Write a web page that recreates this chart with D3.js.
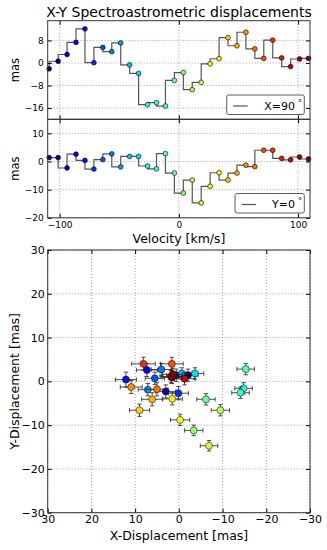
<!DOCTYPE html>
<html lang="en">

<head>
    <meta charset="UTF-8">
    <title>X-Y Spectroastrometric displacements</title>
    <script src="https://cdn.jsdelivr.net/npm/d3@7"></script>
    <style>
        * {
            margin: 0;
            padding: 0;
        }

        body {
            background: #fff;
        }

        text {
            font-family: "DejaVu Sans", sans-serif;
            fill: #000;
        }
    </style>
</head>

<body>
</body>
<script>
    const width = 327
    const height = 550

    // velocity channels [km/s]
    var velocity = [-108.75, -101.25, -93.75, -86.25, -78.75, -71.25, -63.75, -56.25, -48.75, -41.25,
        -33.75, -26.25, -18.75, -11.25, -3.75, 3.75, 11.25, 18.75, 26.25, 33.75,
        41.25, 48.75, 56.25, 63.75, 71.25, 78.75, 86.25, 93.75, 101.25, 108.75]

    // spectroastrometric displacements [mas]
    var xDisp = [-2.1, 0.6, 3.0, 7.3, 12.1, 0.1, 5.5, 4.0, 7.1, -0.7,
        -3.7, -14.8, -14.1, -15.3, -6.2, -3.4, -9.5, -6.9, -0.3, 1.5,
        9.0, 6.1, 10.9, 5.0, 1.6, 8.1, 1.8, -1.3, 1.4, 1.6]
    var yDisp = [1.4, 1.4, -2.3, 2.6, 0.4, -2.7, 0.7, 2.7, -1.9, 1.8,
        1.8, -1.6, -2.6, 2.8, -4.1, -11.2, -6.6, -14.7, -8.8, -4.0,
        -6.6, -4.1, -1.3, -1.8, 4.0, 4.0, 1.1, 0.6, 1.6, 0.9]
    var xErr = [2.3, 2.2, 2.3, 2.4, 2.4, 2.3, 2.2, 2.3, 2.2, 2.1,
        2.0, 2.0, 2.0, 2.0, 2.1, 2.1, 2.1, 2.0, 2.2, 2.3,
        2.3, 2.4, 2.5, 2.5, 2.6, 2.7, 2.5, 2.4, 2.3, 2.3]
    var yErr = [1.4, 1.4, 1.5, 1.5, 1.7, 1.5, 1.4, 1.4, 1.4, 1.3,
        1.3, 1.3, 1.3, 1.3, 1.3, 1.2, 1.3, 1.2, 1.3, 1.4,
        1.4, 1.5, 1.5, 1.5, 1.5, 1.5, 1.4, 1.4, 1.4, 1.4]

    var velTicks = [-100, 0, 100]
    var xPanelTicks = [-16, -8, 0, 8]
    var yPanelTicks = [-20, -10, 0, 10]
    var scatterTicks = [-30, -20, -10, 0, 10, 20, 30]

    const svg = d3.select('body')
        .append('svg')
        .attr('width', width)
        .attr('height', height)

    // jet colormap from piecewise linear scales
    const jr = d3.scaleLinear().domain([0, 0.35, 0.66, 0.89, 1]).range([0, 0, 1, 1, 0.5]).clamp(true)
    const jg = d3.scaleLinear().domain([0, 0.125, 0.375, 0.64, 0.91, 1]).range([0, 0, 1, 1, 0, 0]).clamp(true)
    const jb = d3.scaleLinear().domain([0, 0.11, 0.34, 0.65, 1]).range([0.5, 1, 1, 0, 0]).clamp(true)
    const cIdx = d3.scaleLinear().domain([0, velocity.length - 1]).range([0, 1])
    const jet = i => {
        const t = cIdx(i)
        return d3.rgb(jr(t) * 255, jg(t) * 255, jb(t) * 255).formatHex()
    }

    const left = 47.7, right = 310
    const panels = [
        { top: 20.7, bottom: 119.3, vals: xDisp, ticks: xPanelTicks, legend: 'X=90', lx: 226.7, lw: 77.6 },
        { top: 119.3, bottom: 217.8, vals: yDisp, ticks: yPanelTicks, legend: 'Y=0', lx: 235, lw: 69.3 }
    ]

    const vScale = d3.scaleLinear()
        .domain([-110, 110])
        .range([left, right])

    panels.forEach((p, k) => {
        const yScale = d3.scaleLinear()
            .domain([-20, 15])
            .range([p.bottom, p.top])

        const g = svg.append('g')

        // grid
        g.selectAll('.vgrid')
            .data(velTicks)
            .enter()
            .append('line')
            .attr('x1', d => vScale(d)).attr('x2', d => vScale(d))
            .attr('y1', p.top).attr('y2', p.bottom)
            .attr('stroke', '#777').attr('stroke-width', 0.7).attr('stroke-dasharray', '1,2')
        g.selectAll('.hgrid')
            .data(p.ticks)
            .enter()
            .append('line')
            .attr('x1', left).attr('x2', right)
            .attr('y1', d => yScale(d)).attr('y2', d => yScale(d))
            .attr('stroke', '#777').attr('stroke-width', 0.7).attr('stroke-dasharray', '1,2')

        // step line
        const line = d3.line()
            .x((d, i) => vScale(velocity[i]))
            .y(d => yScale(d))
            .curve(d3.curveStepBefore)
        g.append('path')
            .attr('d', line(p.vals))
            .attr('fill', 'none')
            .attr('stroke', '#555')
            .attr('stroke-width', 1.2)

        g.selectAll('.dot')
            .data(p.vals)
            .enter()
            .append('circle')
            .attr('cx', (d, i) => vScale(velocity[i]))
            .attr('cy', d => yScale(d))
            .attr('r', 2.4)
            .attr('fill', (d, i) => jet(i))
            .attr('stroke', '#000')
            .attr('stroke-width', 0.6)

        // axes with inward ticks
        const yAxis = d3.axisLeft(yScale).tickValues(p.ticks).tickSize(-4).tickPadding(4)
        g.append('g')
            .attr('transform', 'translate(' + left + ',0)')
            .call(yAxis)
            .call(a => a.select('.domain').remove())
            .selectAll('text').attr('font-size', 9).attr('font-family', 'DejaVu Sans').attr('fill', '#000')
        g.append('g')
            .attr('transform', 'translate(' + right + ',0)')
            .call(d3.axisRight(yScale).tickValues(p.ticks).tickSize(-4).tickFormat(''))
            .call(a => a.select('.domain').remove())

        const xAxis = d3.axisBottom(vScale).tickValues(velTicks).tickSize(-4).tickPadding(4)
        if (k == 0) xAxis.tickFormat('')
        g.append('g')
            .attr('transform', 'translate(0,' + p.bottom + ')')
            .call(xAxis)
            .call(a => a.select('.domain').remove())
            .selectAll('text').attr('font-size', 9).attr('font-family', 'DejaVu Sans').attr('fill', '#000')
        g.append('g')
            .attr('transform', 'translate(0,' + p.top + ')')
            .call(d3.axisTop(vScale).tickValues(velTicks).tickSize(-4).tickFormat(''))
            .call(a => a.select('.domain').remove())

        g.append('rect')
            .attr('x', left).attr('y', p.top)
            .attr('width', right - left).attr('height', p.bottom - p.top)
            .attr('fill', 'none').attr('stroke', '#333').attr('stroke-width', 1)

        g.append('text')
            .attr('transform', 'translate(19,' + ((p.top + p.bottom) / 2) + ') rotate(-90)')
            .attr('text-anchor', 'middle')
            .attr('font-size', 11.5)
            .text('mas')

        // legend
        const ly = p.bottom - 24.3
        const leg = g.append('g')
        leg.append('rect')
            .attr('x', p.lx).attr('y', ly)
            .attr('width', p.lw).attr('height', 19.5)
            .attr('rx', 2)
            .attr('fill', '#fff').attr('stroke', '#333').attr('stroke-width', 0.8)
        leg.append('line')
            .attr('x1', p.lx + 6.5).attr('x2', p.lx + 21)
            .attr('y1', ly + 11).attr('y2', ly + 11)
            .attr('stroke', '#555').attr('stroke-width', 1.2)
        const lt = leg.append('text')
            .attr('x', right - 8)
            .attr('y', ly + 14.5)
            .attr('text-anchor', 'end')
            .attr('font-size', 11)
            .text(p.legend)
        lt.append('tspan').attr('dx', 3).attr('dy', -4).attr('font-size', 8).text('°')
    })

    svg.append('text')
        .attr('x', 179)
        .attr('y', 16.5)
        .attr('text-anchor', 'middle')
        .attr('font-size', 14)
        .text('X-Y Spectroastrometric displacements')

    svg.append('text')
        .attr('x', 179)
        .attr('y', 243)
        .attr('text-anchor', 'middle')
        .attr('font-size', 12.5)
        .text('Velocity [km/s]')

    // scatter of displacements
    const sTop = 250, sBottom = 512.7
    const sx = d3.scaleLinear().domain([30, -30]).range([left, right])
    const sy = d3.scaleLinear().domain([-30, 30]).range([sBottom, sTop])

    const sg = svg.append('g')
    sg.selectAll('.sv')
        .data(scatterTicks)
        .enter()
        .append('line')
        .attr('x1', d => sx(d)).attr('x2', d => sx(d))
        .attr('y1', sTop).attr('y2', sBottom)
        .attr('stroke', '#777').attr('stroke-width', 0.7).attr('stroke-dasharray', '1,2')
    sg.selectAll('.sh')
        .data(scatterTicks)
        .enter()
        .append('line')
        .attr('x1', left).attr('x2', right)
        .attr('y1', d => sy(d)).attr('y2', d => sy(d))
        .attr('stroke', '#777').attr('stroke-width', 0.7).attr('stroke-dasharray', '1,2')

    const pts = sg.selectAll('.pt')
        .data(xDisp)
        .enter()
        .append('g')
    // error bars
    pts.append('line')
        .attr('x1', (d, i) => sx(d - xErr[i])).attr('x2', (d, i) => sx(d + xErr[i]))
        .attr('y1', (d, i) => sy(yDisp[i])).attr('y2', (d, i) => sy(yDisp[i]))
        .attr('stroke', '#222').attr('stroke-width', 0.8)
    pts.append('line')
        .attr('x1', d => sx(d)).attr('x2', d => sx(d))
        .attr('y1', (d, i) => sy(yDisp[i] - yErr[i])).attr('y2', (d, i) => sy(yDisp[i] + yErr[i]))
        .attr('stroke', '#222').attr('stroke-width', 0.8)
    const caps = [-1, 1]
    caps.forEach(s => {
        pts.append('line')
            .attr('x1', (d, i) => sx(d + s * xErr[i])).attr('x2', (d, i) => sx(d + s * xErr[i]))
            .attr('y1', (d, i) => sy(yDisp[i]) - 2.2).attr('y2', (d, i) => sy(yDisp[i]) + 2.2)
            .attr('stroke', '#222').attr('stroke-width', 0.8)
        pts.append('line')
            .attr('x1', d => sx(d) - 2.2).attr('x2', d => sx(d) + 2.2)
            .attr('y1', (d, i) => sy(yDisp[i] + s * yErr[i])).attr('y2', (d, i) => sy(yDisp[i] + s * yErr[i]))
            .attr('stroke', '#222').attr('stroke-width', 0.8)
    })
    pts.append('circle')
        .attr('cx', d => sx(d))
        .attr('cy', (d, i) => sy(yDisp[i]))
        .attr('r', 3.5)
        .attr('fill', (d, i) => jet(i))
        .attr('stroke', '#000')
        .attr('stroke-width', 0.5)

    sg.append('g')
        .attr('transform', 'translate(' + left + ',0)')
        .call(d3.axisLeft(sy).tickValues(scatterTicks).tickSize(-4).tickPadding(3))
        .call(a => a.select('.domain').remove())
        .selectAll('text').attr('font-size', 11).attr('font-family', 'DejaVu Sans').attr('fill', '#000')
    sg.append('g')
        .attr('transform', 'translate(' + right + ',0)')
        .call(d3.axisRight(sy).tickValues(scatterTicks).tickSize(-4).tickFormat(''))
        .call(a => a.select('.domain').remove())
    sg.append('g')
        .attr('transform', 'translate(0,' + sBottom + ')')
        .call(d3.axisBottom(sx).tickValues(scatterTicks).tickSize(-4).tickPadding(2))
        .call(a => a.select('.domain').remove())
        .selectAll('text').attr('font-size', 11).attr('font-family', 'DejaVu Sans').attr('fill', '#000')
    sg.append('g')
        .attr('transform', 'translate(0,' + sTop + ')')
        .call(d3.axisTop(sx).tickValues(scatterTicks).tickSize(-4).tickFormat(''))
        .call(a => a.select('.domain').remove())

    sg.append('rect')
        .attr('x', left).attr('y', sTop)
        .attr('width', right - left).attr('height', sBottom - sTop)
        .attr('fill', 'none').attr('stroke', '#333').attr('stroke-width', 1)

    svg.append('text')
        .attr('x', 179)
        .attr('y', 539.5)
        .attr('text-anchor', 'middle')
        .attr('font-size', 12.5)
        .text('X-Displacement [mas]')

    svg.append('text')
        .attr('transform', 'translate(19,' + ((sTop + sBottom) / 2) + ') rotate(-90)')
        .attr('text-anchor', 'middle')
        .attr('font-size', 12.5)
        .text('Y-Displacement [mas]')
</script>

</html>
